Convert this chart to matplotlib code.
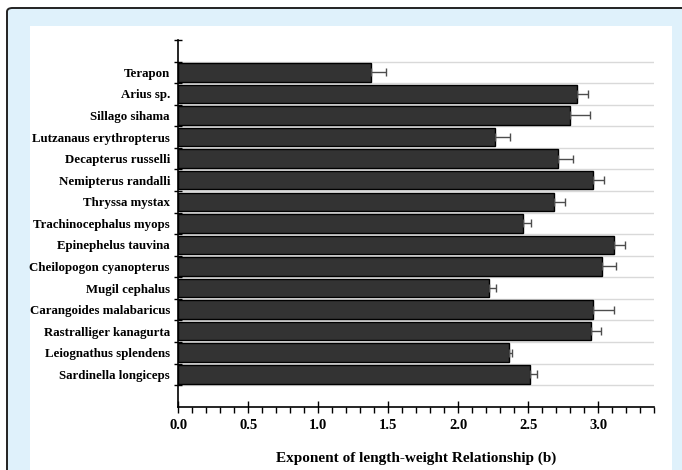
import numpy as np
import matplotlib
matplotlib.use('Agg')
import matplotlib.pyplot as plt
from matplotlib.patches import FancyBboxPatch, Rectangle

plt.rcParams['font.family'] = ['Liberation Serif', 'DejaVu Serif']

# species listed top to bottom as in the figure
species = ['Terapon', 'Arius sp.', 'Sillago sihama', 'Lutzanaus erythropterus',
           'Decapterus russelli', 'Nemipterus randalli', 'Thryssa mystax',
           'Trachinocephalus myops', 'Epinephelus tauvina', 'Cheilopogon cyanopterus',
           'Mugil cephalus', 'Carangoides malabaricus', 'Rastralliger kanagurta',
           'Leiognathus splendens', 'Sardinella longiceps']
b_values = [1.375, 2.85, 2.80, 2.26, 2.71, 2.96, 2.68, 2.46, 3.11, 3.03,
            2.22, 2.96, 2.95, 2.36, 2.51]
b_errors = [0.11, 0.075, 0.14, 0.11, 0.11, 0.08, 0.08, 0.06, 0.08, 0.10,
            0.05, 0.15, 0.07, 0.025, 0.05]
x_ticks = [0.0, 0.5, 1.0, 1.5, 2.0, 2.5, 3.0]

fig = plt.figure(figsize=(6.82, 4.70), dpi=100)

# light blue frame with rounded border, white panel inside
W, H = 682.0, 470.0
frame = FancyBboxPatch((7 / W, -0.2), 1.2, 1 - 8 / H + 0.2,
                       boxstyle='round,pad=0,rounding_size=0.008',
                       transform=fig.transFigure, facecolor='#dff1fb',
                       edgecolor='#222222', linewidth=1.4, zorder=-10)
fig.patches.append(frame)
panel = Rectangle((30 / W, -0.1), (672 - 30) / W, 1 - 26 / H + 0.1,
                  transform=fig.transFigure, facecolor='white',
                  edgecolor='none', zorder=-9)
fig.patches.append(panel)

ax = fig.add_axes([178.3 / W, 1 - 406.7 / H, (654.3 - 178.3) / W, (406.7 - 40) / H])
ax.set_facecolor('none')

n = len(species)
ypos = np.arange(n)[::-1] + 1
boundaries = np.arange(n + 1) + 0.5

for yb in boundaries:
    ax.axhline(yb, color='#d9d9d9', linewidth=1, zorder=0)

ax.barh(ypos, b_values, height=0.86, color='#333333', edgecolor='black',
        linewidth=1, zorder=3,
        xerr=[np.zeros(n), b_errors],
        error_kw=dict(ecolor='#4d4d4d', elinewidth=1, capsize=3, capthick=1, zorder=4))

ax.set_xlim(0, 3.4)
ax.set_ylim(-0.5, n + 1.5)

ax.spines['top'].set_visible(False)
ax.spines['right'].set_visible(False)
ax.spines['left'].set_linewidth(1.2)
ax.spines['bottom'].set_linewidth(1.2)

# y: tick marks at category boundaries, labels at bar centres
ax.set_yticks(np.append(boundaries, n + 1.5))
ax.set_yticklabels([])
ax.set_yticks(ypos, minor=True)
ax.set_yticklabels(species, minor=True, fontsize=9.3, fontweight='bold')
ax.tick_params(axis='y', which='major', direction='inout', length=6, width=1)
ax.tick_params(axis='y', which='minor', length=0, pad=6)

ax.set_xticks(x_ticks)
ax.set_xticklabels(['%.1f' % t for t in x_ticks], fontsize=10.5, fontweight='bold')
ax.set_xticks(np.arange(0, 3.41, 0.1), minor=True)
ax.tick_params(axis='x', which='major', direction='inout', length=8, width=1, pad=5)
ax.tick_params(axis='x', which='minor', direction='out', length=4, width=1)

ax.set_xlabel('Exponent of length-weight Relationship (b)', fontsize=11,
              fontweight='bold', labelpad=14)

fig.savefig('out.png', dpi=100)
